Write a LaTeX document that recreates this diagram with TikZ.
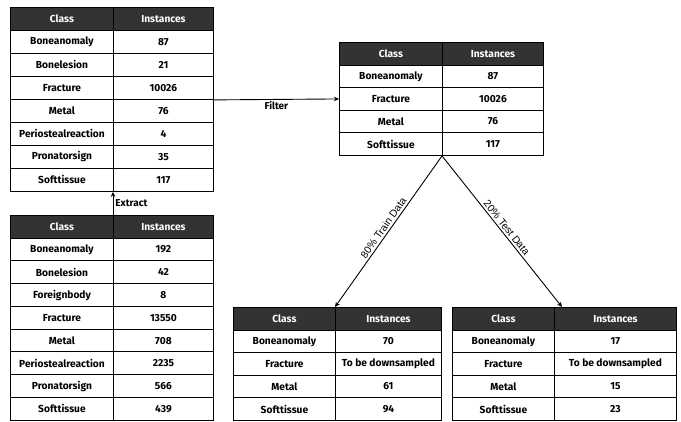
\documentclass[tikz,border=0pt]{standalone}
\usepackage{fontspec}
\setmainfont{Fira Sans}
\newfontfamily\lblfont{Liberation Sans}
\usetikzlibrary{arrows.meta,calc}
\definecolor{hdr}{HTML}{333333}
\tikzset{
  cell/.style={draw=black, line width=0.9pt, anchor=north west, inner sep=0pt,
    font=\bfseries\fontsize{10.2}{12}\selectfont, text=black, align=center},
  hcell/.style={cell, fill=hdr, text=white},
  conn/.style={draw=black, line width=0.9pt, -{Stealth[length=5pt,width=4.5pt]}},
  lbl/.style={font=\bfseries\fontsize{10}{12}\selectfont, inner sep=2pt},
  slbl/.style={font=\lblfont\fontsize{10.3}{12}\selectfont, sloped, above, midway, inner sep=2pt}
}
% #1 name, #2 x left, #3 x divider, #4 x right, #5 y top, #6 row height, #7 rows
\newcommand\mktable[7]{%
  \pgfmathsetmacro\wa{#3-#2}%
  \pgfmathsetmacro\wb{#4-#3}%
  \node[hcell, minimum width=\wa pt, minimum height=#6pt] (#1hc) at (#2,#5) {Class};
  \node[hcell, minimum width=\wb pt, minimum height=#6pt] (#1hv) at (#3,#5) {Instances};
  \foreach \cls/\val [count=\i] in {#7} {
    \pgfmathsetmacro\yy{#5+\i*#6}
    \node[cell, minimum width=\wa pt, minimum height=#6pt] (#1c\i) at (#2,\yy) {\cls};
    \node[cell, minimum width=\wb pt, minimum height=#6pt] (#1v\i) at (#3,\yy) {\val};
  }
}
\begin{document}
\begin{tikzpicture}[x=1pt, y=-1pt]
\useasboundingbox[fill=white] (0,0) rectangle (681,422);

\mktable{ta}{10}{113}{213}{7}{23}{Boneanomaly/87, Bonelesion/21, Fracture/10026, Metal/76, Periostealreaction/4, Pronatorsign/35, Softtissue/117}
\mktable{tb}{10}{113}{213}{215}{22.75}{Boneanomaly/192, Bonelesion/42, Foreignbody/8, Fracture/13550, Metal/708, Periostealreaction/2235, Pronatorsign/566, Softtissue/439}
\mktable{tc}{339}{442}{543}{42}{22.6}{Boneanomaly/87, Fracture/10026, Metal/76, Softtissue/117}
\mktable{td}{233}{335}{441}{307}{22.6}{Boneanomaly/70, Fracture/To be downsampled, Metal/61, Softtissue/94}
\mktable{te}{452}{554}{676}{307}{22.6}{Boneanomaly/17, Fracture/To be downsampled, Metal/15, Softtissue/23}

\coordinate (teIn) at ($(tehv.north west)+(8,0)$);

\draw[conn] (tahv.south east |- tav3.south east) -- (tcc2.west) node[lbl, midway, below] {Filter};
\draw[conn] (tbhv.north west) -- (tav7.south west) node[lbl, midway, right] {Extract};
\draw[conn] (tcv4.south west) -- (tdhv.north west) node[slbl] {80\% Train Data};
\draw[conn] (tcv4.south west) -- (teIn) node[slbl] {20\% Test Data};
\end{tikzpicture}
\end{document}
